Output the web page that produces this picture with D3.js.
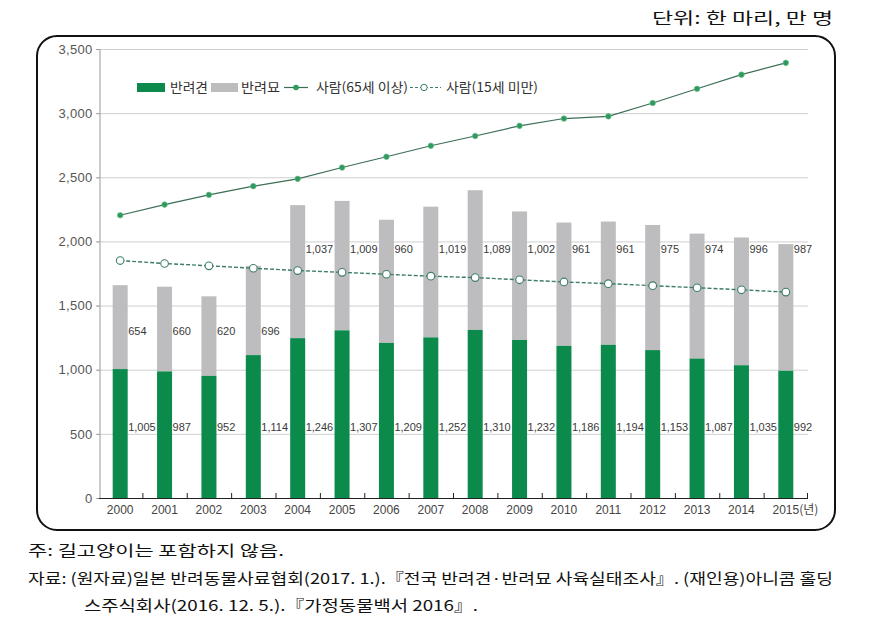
<!DOCTYPE html>
<html><head><meta charset="utf-8">
<script src="https://cdn.jsdelivr.net/npm/d3@7"></script>
<style>
body{margin:0;background:#fff;}
svg{display:block;}
</style></head>
<body>
<svg id="c" width="869" height="629"></svg>
<script>
const years = ['2000','2001','2002','2003','2004','2005','2006','2007','2008','2009','2010','2011','2012','2013','2014','2015'];
const dogs = [1005,987,952,1114,1246,1307,1209,1252,1310,1232,1186,1194,1153,1087,1035,992];
const cats = [654,660,620,696,1037,1009,960,1019,1089,1002,961,961,975,974,996,987];
const senior = [2204,2287,2363,2431,2488,2576,2660,2746,2822,2901,2958,2975,3079,3190,3300,3392];
const youth = [1851,1828,1810,1791,1773,1759,1744,1729,1718,1701,1684,1671,1655,1639,1623,1605];
const yTicks = [0,500,1000,1500,2000,2500,3000,3500];
const legendLabels = ['반려견','반려묘','사람(65세 이상)','사람(15세 미만)'];
const unitText = '단위: 한 마리, 만 명';
const notes = ['주: 길고양이는 포함하지 않음.',
 '자료: (원자료)일본 반려동물사료협회(2017. 1.).『전국 반려견·반려묘 사육실태조사』. (재인용)아니콤 홀딩',
 '스주식회사(2016. 12. 5.).『가정동물백서 2016』.'];

const GREEN='#0b8a4c', GRAY='#bdbdbf', LINE1='#3b6f55', DOT1='#2f9a60', LINE2='#3d7d6a';
const svg = d3.select('#c');
const num = d3.format(',');
const x = d3.scaleBand().domain(years).range([98,808]);
const y = d3.scaleLinear().domain([0,3500]).range([498,49]);
const bw = 15;
const cx = d => x(d) + x.bandwidth()/2;

// frame
svg.append('rect').attr('x',37).attr('y',36).attr('width',798).attr('height',494)
  .attr('rx',20).attr('fill','none').attr('stroke','#111').attr('stroke-width',2);

// unit
svg.append('text').attr('x',833).attr('y',24).attr('text-anchor','end')
  .attr('font-family','Noto Sans CJK KR').attr('font-size',16).attr('fill','#111')
  .attr('textLength',181).attr('lengthAdjust','spacingAndGlyphs').text(unitText);

// grid
svg.append('g').selectAll('line').data(yTicks.slice(1)).join('line')
  .attr('x1',96).attr('x2',808).attr('y1',d=>y(d)+0.5).attr('y2',d=>y(d)+0.5)
  .attr('stroke','#cfcfcf').attr('stroke-width',1);

// y axis
const ya = svg.append('g').attr('transform','translate(99.5,0)')
  .call(d3.axisLeft(y).tickValues(yTicks).tickFormat(num).tickSize(3).tickPadding(4));
ya.select('.domain').attr('stroke','#999');
ya.selectAll('.tick line').attr('stroke','#999');
ya.selectAll('text').attr('font-family','Liberation Sans, Arial, sans-serif').attr('font-size',13)
  .attr('fill','#555').attr('letter-spacing',0.3);

// bars
const idx = d3.range(years.length);
svg.append('g').selectAll('rect').data(idx).join('rect')
  .attr('x',i=>cx(years[i])-bw/2).attr('width',bw)
  .attr('y',i=>y(dogs[i]+cats[i])).attr('height',i=>y(dogs[i])-y(dogs[i]+cats[i]))
  .attr('fill',GRAY);
svg.append('g').selectAll('rect').data(idx).join('rect')
  .attr('x',i=>cx(years[i])-bw/2).attr('width',bw)
  .attr('y',i=>y(dogs[i])).attr('height',i=>y(0)-y(dogs[i]))
  .attr('fill',GREEN);

// x axis
svg.append('line').attr('x1',99).attr('x2',808).attr('y1',498.5).attr('y2',498.5)
  .attr('stroke','#222').attr('stroke-width',1.2);
svg.append('g').selectAll('line').data(years.slice(1).concat(['end'])).join('line')
  .attr('x1',d=>d==='end'?807.5:x(d)+0.5).attr('x2',d=>d==='end'?807.5:x(d)+0.5)
  .attr('y1',493).attr('y2',498.5).attr('stroke','#222').attr('stroke-width',1);
const xl = svg.append('g').attr('font-family','Liberation Sans, Arial, sans-serif')
  .attr('font-size',12).attr('fill','#444');
years.forEach((d,i)=>{
  const t = xl.append('text').attr('x',cx(d)).attr('y',514).attr('text-anchor','middle').text(d);
  if(i===years.length-1){
    const w = t.node().getComputedTextLength();
    xl.append('text').attr('x',cx(d)+w/2).attr('y',514)
      .attr('font-family','Noto Sans CJK KR').attr('font-size',12).text('(년)');
  }
});

// bar labels
const lab = svg.append('g').attr('font-family','Liberation Sans, Arial, sans-serif')
  .attr('font-size',11).attr('fill','#3a3a3a');
idx.forEach(i=>{
  const lx = cx(years[i])+bw/2+0.5;
  lab.append('text').attr('x',lx).attr('y',431).text(num(dogs[i]));
  const cy = (dogs[i]+cats[i])>1900 ? 253 : 335;
  lab.append('text').attr('x',lx).attr('y',cy).text(num(cats[i]));
});

// youth line
const line = d3.line().x((d,i)=>cx(years[i])).y(d=>y(d));
svg.append('path').datum(youth).attr('d',line).attr('fill','none')
  .attr('stroke',LINE2).attr('stroke-width',1.4).attr('stroke-dasharray','4,2');
svg.append('g').selectAll('circle').data(youth).join('circle')
  .attr('cx',(d,i)=>cx(years[i])).attr('cy',d=>y(d)).attr('r',3.8)
  .attr('fill','#fff').attr('stroke',LINE2).attr('stroke-width',1.1);

// senior line
svg.append('path').datum(senior).attr('d',line).attr('fill','none')
  .attr('stroke',LINE1).attr('stroke-width',1.2);
svg.append('g').selectAll('circle').data(senior).join('circle')
  .attr('cx',(d,i)=>cx(years[i])).attr('cy',d=>y(d)).attr('r',2.8)
  .attr('fill',DOT1).attr('stroke','#6fbf8f').attr('stroke-width',0.6);

// legend
const lg = svg.append('g').attr('font-family','Noto Sans CJK KR').attr('font-size',13).attr('fill','#333');
lg.append('rect').attr('x',137).attr('y',83).attr('width',28).attr('height',9).attr('fill',GREEN);
lg.append('text').attr('x',170).attr('y',92).attr('textLength',38).attr('lengthAdjust','spacingAndGlyphs').text(legendLabels[0]);
lg.append('rect').attr('x',211).attr('y',83).attr('width',27).attr('height',9).attr('fill',GRAY);
lg.append('text').attr('x',241).attr('y',92).attr('textLength',39).attr('lengthAdjust','spacingAndGlyphs').text(legendLabels[1]);
lg.append('line').attr('x1',284).attr('x2',308).attr('y1',87.5).attr('y2',87.5).attr('stroke',LINE1).attr('stroke-width',1.2);
lg.append('circle').attr('cx',296).attr('cy',87.5).attr('r',2.8).attr('fill',DOT1);
lg.append('text').attr('x',316).attr('y',92).attr('textLength',92).attr('lengthAdjust','spacingAndGlyphs').text(legendLabels[2]);
lg.append('line').attr('x1',410).attr('x2',441).attr('y1',87.5).attr('y2',87.5).attr('stroke',LINE2).attr('stroke-width',1.2).attr('stroke-dasharray','3,2');
lg.append('circle').attr('cx',424).attr('cy',87.5).attr('r',3.2).attr('fill','#fff').attr('stroke',LINE2).attr('stroke-width',1);
lg.append('text').attr('x',446).attr('y',92).attr('textLength',92).attr('lengthAdjust','spacingAndGlyphs').text(legendLabels[3]);

// notes
const nt = svg.append('g').attr('font-family','Noto Sans CJK KR').attr('font-size',15).attr('fill','#111');
nt.append('text').attr('x',28).attr('y',556).attr('textLength',256).attr('lengthAdjust','spacingAndGlyphs').text(notes[0]);
nt.append('text').attr('x',28).attr('y',584).attr('textLength',805).attr('lengthAdjust','spacingAndGlyphs').text(notes[1]);
nt.append('text').attr('x',84).attr('y',611).attr('textLength',394).attr('lengthAdjust','spacingAndGlyphs').text(notes[2]);
</script>
</body></html>
